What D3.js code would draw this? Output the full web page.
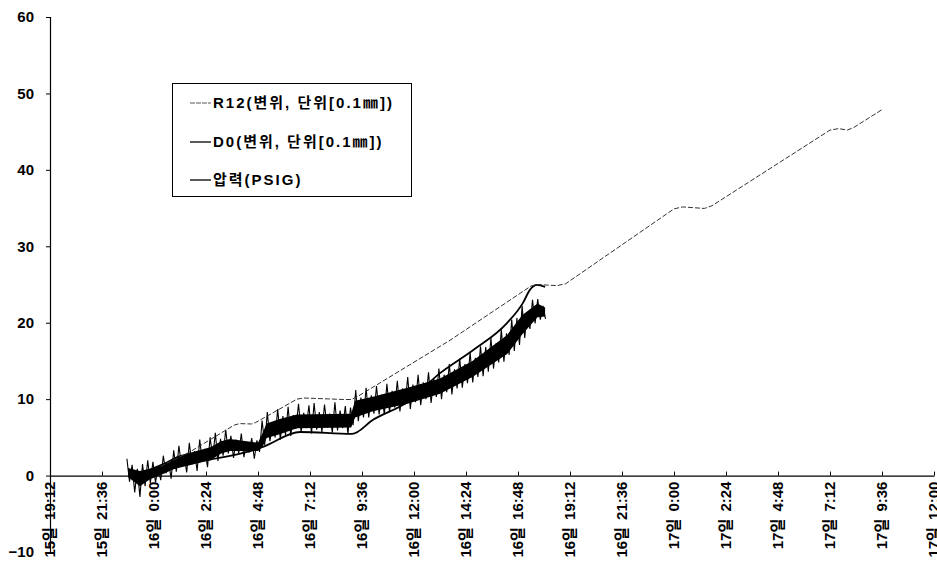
<!DOCTYPE html>
<html>
<head>
<meta charset="utf-8">
<script src="https://cdn.jsdelivr.net/npm/d3@7"></script>
<style>
  html, body { margin: 0; padding: 0; background: #fff; }
  svg { display: block; }
  text { font-family: "Liberation Sans", Arial, "Noto Sans CJK KR", sans-serif; font-weight: bold; fill: #000; }
</style>
</head>
<body>
<svg id="chart" width="937" height="567"></svg>
<script>
// ---- Data (x in hours since 15일 19:12) ----
const tickHours = [0, 2.4, 4.8, 7.2, 9.6, 12, 14.4, 16.8, 19.2, 21.6, 24, 26.4, 28.8, 31.2, 33.6, 36, 38.4, 40.8];
const tickLabels = ["15일 19:12", "15일 21:36", "16일 0:00", "16일 2:24", "16일 4:48", "16일 7:12", "16일 9:36",
  "16일 12:00", "16일 14:24", "16일 16:48", "16일 19:12", "16일 21:36", "17일 0:00", "17일 2:24",
  "17일 4:48", "17일 7:12", "17일 9:36", "17일 12:00"];
const yTicks = [-10, 0, 10, 20, 30, 40, 50, 60];

const seriesNames = ["R12(변위, 단위[0.1㎜])", "D0(변위, 단위[0.1㎜])", "압력(PSIG)"];

// R12 displacement [hour, value]
const r12 = [[5.1, 1.2], [6.46, 3.1], [8.5, 6.6], [8.75, 6.8], [9.3, 6.75], [9.5, 6.95], [11.4, 10.0], [11.7, 10.15],
  [13.6, 9.95], [13.9, 9.95], [14.2, 10.35], [18.46, 17.7], [22.2, 24.8], [22.5, 25.0], [23.4, 24.85], [23.8, 25.1],
  [28.8, 34.9], [29.2, 35.15], [30.2, 34.95], [30.55, 35.3], [36.0, 45.2], [36.4, 45.4], [36.8, 45.2], [37.1, 45.55], [38.45, 47.97]];

// D0 displacement [hour, value]
const d0 = [[4.62, 0.2], [6.92, 1.8], [9.23, 3.2], [9.83, 3.75], [11.54, 5.7], [13.94, 5.45], [14.91, 7.3],
  [16.48, 9.6], [18.0, 13.4], [19.52, 16.4], [21.09, 19.95], [21.83, 22.6], [22.15, 24.3], [22.48, 24.95], [22.85, 24.7]];

// Pressure readings, sampled every 0.12 h starting at 3.55 h
const pressureStart = 3.55, pressureStep = 0.12;
const pressure = [
  2.2, -0.8, 1.4, -2.2, 0.9, -2.8, 1.5, -1.4, 2.0, -1.0, 1.8, -0.9, 1.2, -0.6, 2.6, 0.3, 1.9, -0.4, 3.3, 0.5,
  3.9, 1.2, 2.6, 0.4, 4.3, 1.5, 3.2, 0.6, 4.7, 1.8, 3.5, 1.1, 5.0, 2.3, 5.6, 1.9, 4.8, 2.6, 6.0, 2.9,
  5.2, 2.3, 4.7, 2.9, 5.5, 2.4, 4.4, 3.0, 4.9, 2.2, 4.6, 3.1, 7.2, 4.0, 8.3, 4.5, 6.9, 5.0, 8.7, 4.7,
  7.8, 5.3, 9.0, 5.2, 7.9, 6.1, 9.4, 5.7, 8.2, 6.2, 9.2, 5.5, 9.5, 6.0, 8.3, 5.7, 9.3, 6.3, 8.1, 5.6,
  9.6, 5.9, 8.5, 6.2, 9.1, 5.4, 8.9, 6.6, 11.2, 7.1, 10.2, 7.6, 11.5, 7.6, 10.5, 8.1, 11.7, 8.0, 10.6, 8.0,
  12.0, 8.3, 11.1, 8.9, 12.4, 8.4, 11.4, 9.3, 12.9, 8.7, 11.9, 9.6, 13.2, 9.2, 12.2, 10.0, 13.5, 9.5, 12.7, 10.3,
  14.0, 10.0, 13.2, 10.9, 14.6, 10.6, 13.9, 11.4, 15.3, 11.5, 14.6, 12.1, 16.1, 12.2, 15.4, 12.9, 16.9, 13.0, 16.8, 13.6,
  18.0, 14.0, 17.3, 14.8, 19.1, 14.9, 18.6, 15.8, 20.4, 16.3, 20.6, 17.1, 22.2, 18.0, 21.4, 19.2, 23.0, 19.9, 23.1, 20.4,
  22.2, 20.5
];
// Pressure band core [hour, low, high]
const pressureBand = [[3.6, -0.2, 1.0], [4.15, -1.4, 0.6], [4.6, -0.5, 0.9], [5.3, 0.3, 1.7], [5.9, 1.1, 2.6],
  [6.6, 1.6, 3.1], [7.4, 2.0, 3.7], [7.9, 2.9, 4.5], [8.3, 3.2, 4.8], [9.6, 3.2, 4.3], [9.8, 3.7, 5.5],
  [10.0, 4.9, 6.8], [10.6, 5.4, 7.4], [11.4, 6.2, 8.0], [13.9, 6.3, 8.1], [14.08, 7.6, 9.8], [14.9, 8.4, 10.3],
  [16.5, 9.4, 11.5], [18.0, 10.7, 12.7], [19.5, 12.9, 15.0], [21.1, 15.9, 18.4], [21.8, 18.5, 21.0],
  [22.5, 20.7, 22.5], [22.85, 20.8, 22.0]];

// ---- Chart ----
const svg = d3.select("#chart");
const x = d3.scaleLinear().domain([0, 40.8]).range([50, 934]);
const y = d3.scaleLinear().domain([-10, 60]).range([552, 17]);

// Y axis
const yAxis = svg.append("g").attr("transform", `translate(${x(0)},0)`)
  .call(d3.axisLeft(y).tickValues(yTicks).tickSize(4).tickPadding(12).tickFormat(d3.format("d")));
yAxis.select(".domain").attr("stroke", "#000").attr("stroke-width", 1.2);
yAxis.selectAll(".tick line").attr("stroke", "#000");
yAxis.selectAll(".tick text").style("font-size", "15px").attr("fill", "#000");

// X axis at y = 0, ticks upward
const xAxis = svg.append("g").attr("transform", `translate(0,${y(0)})`)
  .call(d3.axisBottom(x).tickValues(tickHours).tickSize(-4).tickSizeOuter(0).tickFormat(""));
xAxis.select(".domain").attr("stroke", "#000").attr("stroke-width", 1.2);
xAxis.selectAll(".tick line").attr("stroke", "#000");

// Rotated x labels
svg.append("g").selectAll("text").data(tickHours).join("text")
  .attr("transform", d => `translate(${x(d)},${y(0) + 6}) rotate(-90)`)
  .attr("text-anchor", "end")
  .attr("dy", "0.35em")
  .style("font-size", "15px")
  .style("word-spacing", "3px")
  .text((d, i) => tickLabels[i]);

const line = d3.line().x(d => x(d[0])).y(d => y(d[1]));

// Pressure band
svg.append("path").datum(pressureBand)
  .attr("d", d3.area().x(d => x(d[0])).y0(d => y(d[1])).y1(d => y(d[2])))
  .attr("fill", "#000");
// Pressure zigzag
svg.append("path")
  .datum(pressure.map((v, i) => [pressureStart + i * pressureStep, v]))
  .attr("d", line)
  .attr("fill", "none").attr("stroke", "#000").attr("stroke-width", 1.1).attr("stroke-linejoin", "miter");

// D0
svg.append("path").datum(d0)
  .attr("d", d3.line().x(d => x(d[0])).y(d => y(d[1])).curve(d3.curveMonotoneX))
  .attr("fill", "none").attr("stroke", "#000").attr("stroke-width", 1.8);

// R12
svg.append("path").datum(r12)
  .attr("d", line)
  .attr("fill", "none").attr("stroke", "#333").attr("stroke-width", 1).attr("stroke-dasharray", "5,2");

// Legend
const lg = svg.append("g");
lg.append("rect").attr("x", 172.5).attr("y", 83.5).attr("width", 239).attr("height", 113)
  .attr("fill", "#fff").attr("stroke", "#000").attr("stroke-width", 1);
const legendStyles = [
  { stroke: "#555", width: 1, dash: "5,1" },
  { stroke: "#000", width: 1.3, dash: null },
  { stroke: "#000", width: 1.3, dash: null }
];
const legendRows = [103, 142, 180];
seriesNames.forEach((name, i) => {
  lg.append("line").attr("x1", 190).attr("x2", 211).attr("y1", legendRows[i]).attr("y2", legendRows[i])
    .attr("stroke", legendStyles[i].stroke).attr("stroke-width", legendStyles[i].width)
    .attr("stroke-dasharray", legendStyles[i].dash);
  lg.append("text").attr("x", 213).attr("y", legendRows[i]).attr("dy", "0.35em")
    .style("font-size", "15px").style("letter-spacing", "2px").text(name);
});
</script>
</body>
</html>
